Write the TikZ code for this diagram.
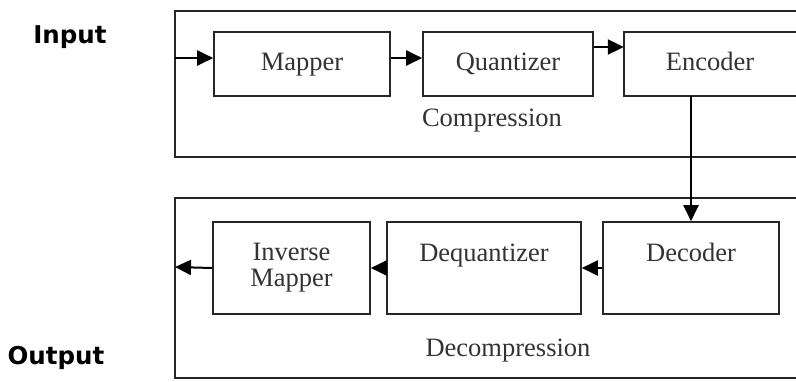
\documentclass[tikz,border=0pt]{standalone}
\usepackage{fontspec}
\setmainfont{Liberation Serif}
\newfontfamily\iofont{DejaVu Sans}
\usetikzlibrary{arrows.meta}
\begin{document}
\begin{tikzpicture}[x=1pt,y=-1pt,
  blk/.style={draw=black!85, line width=1.6pt, rectangle, inner sep=0pt,
    font=\fontsize{26.5}{30}\selectfont, text=black!80},
  txt/.style={font=\fontsize{26.5}{30}\selectfont, text=black!80, inner sep=0pt},
  fixd/.style={text height=18pt, text depth=6pt},
  frame/.style={draw=black!85, line width=1.8pt},
  arr/.style={draw=black, line width=2pt, -{Triangle[length=16pt,width=15pt]}},
  io/.style={font=\iofont\bfseries\fontsize{24.5}{28}\selectfont, text=black, inner sep=0pt}]
\useasboundingbox (0,0) rectangle (796,381);
% frames
\draw[frame] (796,11) -- (175,11) -- (175,157) -- (796,157);
\draw[frame] (796,198) -- (175,198) -- (175,378) -- (796,378);
% top row
\node[blk, fixd, minimum width=176pt, minimum height=64pt] (map) at (302,64) {Mapper};
\node[blk, fixd, minimum width=170pt, minimum height=64pt] (quant) at (508,64) {Quantizer};
\node[txt, fixd, minimum width=172pt, minimum height=64pt] (enc) at (710,64) {Encoder};
\draw[blk] (enc.north east) -- (enc.north west) -- (enc.south west) -- (enc.south east);
\node[txt, anchor=base] (comp) at (492,126) {Compression};
% bottom row
\node[blk, minimum width=176pt, minimum height=92pt] (dec) at (691,268) {};
\node[txt, anchor=base] (decT) at (dec.center |- 0,261) {Decoder};
\node[blk, minimum width=194pt, minimum height=92pt] (deq) at (484,268) {};
\node[txt, anchor=base] (deqT) at (deq.center |- 0,261) {Dequantizer};
\node[blk, minimum width=157pt, minimum height=92pt, align=center,
  font=\fontsize{26.5}{26}\selectfont] (inv) at (291.5,268) {Inverse\\Mapper};
\node[txt, anchor=base] (decomp) at (508,356) {Decompression};
% io labels
\node[io] (inp) at (70,37) {Input};
\node[io] (outp) at (56,358) {Output};
% connectors
\coordinate (inpt) at (175,58);
\coordinate (outpt) at (175,267);
\draw[arr] (inpt) -- (inpt -| map.west);
\draw[arr] ([yshift=6pt]map.east) -- ([yshift=6pt]quant.west);
\draw[arr] ([yshift=17pt]quant.east) -- ([yshift=17pt]quant.east -| enc.west);
\draw[arr] (dec.north |- enc.south) -- (dec.north);
\draw[arr] (dec.west) -- (deq.east);
\draw[arr] (deq.west) -- (inv.east);
\draw[arr] (inv.west) -- (outpt);
\end{tikzpicture}
\end{document}
